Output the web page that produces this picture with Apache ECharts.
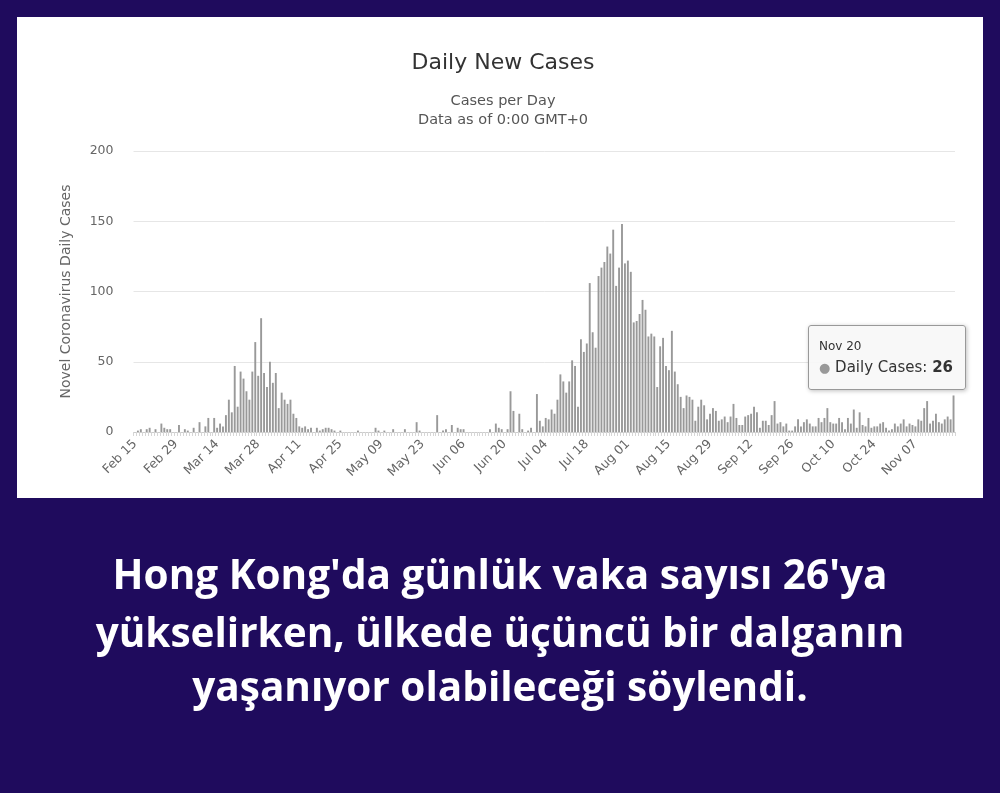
<!DOCTYPE html>
<html>
<head>
<meta charset="utf-8">
<script src="https://cdn.jsdelivr.net/npm/echarts@6/dist/echarts.min.js"></script>
<style>
html,body{margin:0;padding:0;background:#1f0b5d;}
#chart{width:1000px;height:793px;}
</style>
</head>
<body>
<div id="chart"></div>
<script>
// Daily new cases, Feb 15 – Nov 20 (2020), one array per month
const feb = [0,1,2,0,2,3,0,2,0,6,3,2,2,0,0];
const mar = [5,0,2,1,0,3,0,7,0,4,10,0,10,3,6,4,12,23,14,47,18,43,38,29,23,43,64,40,81,42,32];
const apr = [50,35,42,17,28,23,20,23,13,10,4,3,4,2,3,0,3,1,2,3,3,2,1,0,1,0,0,0,0,0];
const may = [1,0,0,0,0,0,3,1,0,1,0,0,2,0,0,0,2,0,0,0,7,1,0,0,0,0,0,12,0,1,2];
const jun = [0,5,0,3,2,2,0,0,0,0,0,0,0,0,2,0,6,3,2,0,2,29,15,0,13,2,0,1,3,0];
const jul = [27,8,4,10,9,16,13,23,41,36,28,36,51,47,18,66,57,63,106,71,60,111,117,121,132,127,144,104,117,148,120];
const aug = [122,114,78,79,84,94,87,68,70,68,32,61,67,47,44,72,43,34,25,17,26,25,23,8,18,23,19,9,13,17,15];
const sep = [8,9,11,7,11,20,10,5,5,11,12,13,18,14,3,8,8,5,12,22,6,7,4,6,1,1,4,9,4,7];
const oct = [9,6,4,4,10,7,10,17,7,6,6,10,7,2,10,6,16,3,14,5,4,10,3,4,4,6,7,3,1,2,6];
const nov = [4,6,9,4,6,5,4,9,8,17,22,6,8,13,7,6,9,11,9,26];

const monthNames = ['Jan','Feb','Mar','Apr','May','Jun','Jul','Aug','Sep','Oct','Nov','Dec'];
const monthArrays = [[1,feb,15],[2,mar,1],[3,apr,1],[4,may,1],[5,jun,1],[6,jul,1],[7,aug,1],[8,sep,1],[9,oct,1],[10,nov,1]];

const categories = [];
const values = [];
monthArrays.forEach(([m, arr, startDay]) => {
  arr.forEach((v, k) => {
    const d = startDay + k;
    categories.push(monthNames[m] + ' ' + (d < 10 ? '0' + d : d));
    values.push(v);
  });
});

const yTicks = [0, 50, 100, 150, 200];
const titleText = 'Daily New Cases';
const subtitleLines = ['Cases per Day', 'Data as of 0:00 GMT+0'];
const yAxisTitle = 'Novel Coronavirus Daily Cases';
const seriesName = 'Daily Cases';
const captionLines = [
  "Hong Kong'da günlük vaka sayısı 26'ya",
  "yükselirken, ülkede üçüncü bir dalganın",
  "yaşanıyor olabileceği söylendi."
];

const chart = echarts.init(document.getElementById('chart'));
const lastIdx = values.length - 1;
const FONT = '"DejaVu Sans", Verdana, sans-serif';

chart.setOption({
  animation: false,
  backgroundColor: '#1f0b5d',
  textStyle: { fontFamily: FONT },
  title: [{
    text: titleText,
    left: 498,
    textAlign: 'center',
    top: 47,
    textStyle: { fontSize: 22, fontWeight: 'normal', color: '#333333', fontFamily: FONT }
  }, {
    text: subtitleLines.join('\n'),
    left: 498,
    textAlign: 'center',
    top: 87,
    textStyle: { fontSize: 14.5, fontWeight: 'normal', color: '#555555', lineHeight: 19, fontFamily: FONT }
  }],
  graphic: [
    { type: 'rect', z: -10, silent: true, shape: { x: 17, y: 17, width: 966, height: 481 }, style: { fill: '#ffffff' } },
    ...captionLines.map((t, i) => ({
      type: 'text', silent: true, left: 'center', top: [557, 615, 669][i],
      style: { text: t, fill: '#ffffff', font: 'bold 40.5px "Open Sans", sans-serif' }
    }))
  ],
  grid: { left: 133.5, right: 45, top: 151, bottom: 361, containLabel: false },
  tooltip: {
    trigger: 'item',
    triggerOn: 'none',
    alwaysShowContent: true,
    transitionDuration: 0,
    position: function () { return [808, 325]; },
    backgroundColor: 'rgba(247,247,247,0.92)',
    borderColor: '#999999',
    borderWidth: 1,
    borderRadius: 3,
    padding: [10, 12, 11, 10],
    extraCssText: 'box-shadow: 1px 1px 4px rgba(0,0,0,0.25);',
    formatter: function (p) {
      return '<div style="font-family:\'DejaVu Sans\',sans-serif;color:#333;line-height:21px;">' +
        '<div style="font-size:12px;">' + p.name + '</div>' +
        '<div style="font-size:15px;"><span style="color:#999;font-size:13px;">\u25CF</span> ' + p.seriesName +
        ': <b>' + p.value + '</b></div></div>';
    }
  },
  xAxis: {
    type: 'category',
    data: categories,
    boundaryGap: true,
    axisLine: { lineStyle: { color: '#cccccc' } },
    axisTick: { show: true, interval: 0, length: 4, lineStyle: { color: '#d6d6d6' } },
    axisLabel: { interval: 13, rotate: 45, color: '#666666', fontSize: 12.5, margin: 10, fontFamily: FONT }
  },
  yAxis: {
    type: 'value',
    min: yTicks[0],
    max: yTicks[yTicks.length - 1],
    interval: 50,
    name: yAxisTitle,
    nameLocation: 'middle',
    nameGap: 60,
    nameRotate: 90,
    nameTextStyle: { color: '#666666', fontSize: 14, fontFamily: FONT },
    axisLine: { show: false },
    axisTick: { show: false },
    axisLabel: { color: '#666666', fontSize: 12.5, margin: 20, fontFamily: FONT },
    splitLine: { lineStyle: { color: '#e6e6e6' } }
  },
  series: [{
    name: seriesName,
    type: 'bar',
    data: values,
    barCategoryGap: '35%',
    itemStyle: { color: '#999999' },
    emphasis: { disabled: true }
  }]
});

chart.dispatchAction({ type: 'showTip', seriesIndex: 0, dataIndex: lastIdx });
</script>
</body>
</html>
